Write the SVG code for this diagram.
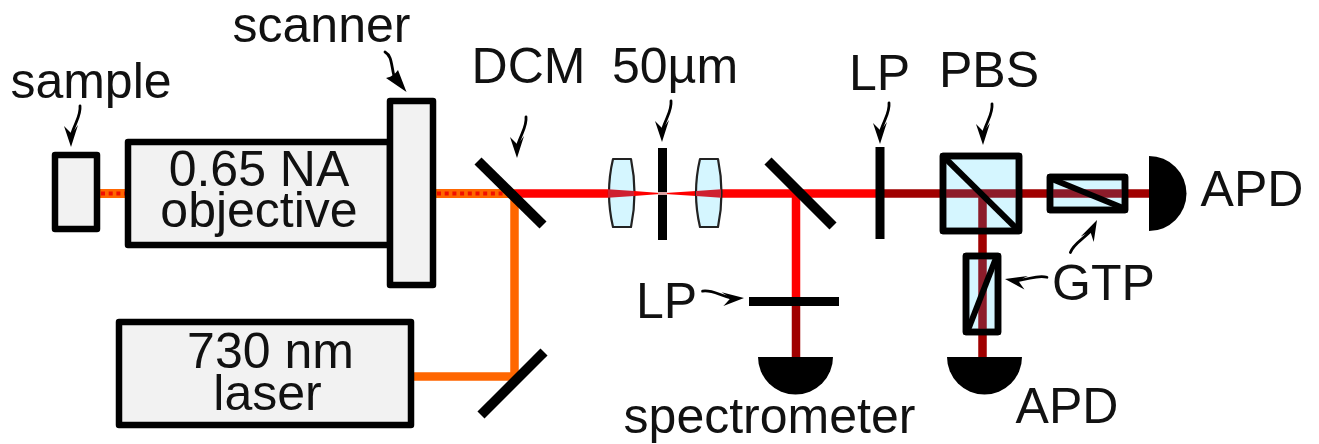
<svg xmlns="http://www.w3.org/2000/svg" width="1319" height="444" viewBox="0 0 1319 444">
<style>
text{font-family:"Liberation Sans",Arial,sans-serif;font-size:50px;fill:#111}
.m{text-anchor:middle}
.box{fill:#f2f2f2;stroke:#000;stroke-width:6.5;stroke-linejoin:round}
.cube{fill:#d5f6ff;stroke:#000;stroke-width:6.5;stroke-linejoin:round}
.frame{fill:none;stroke:#000;stroke-width:6.5;stroke-linejoin:round}
.bar{stroke:#000;fill:none;stroke-linecap:butt}
.lens{fill:#d5f6ff;stroke:#222;stroke-width:2.2;stroke-linejoin:round}
.beam{fill:none;stroke-width:8.5}
.red{stroke:#f00}.dark{stroke:#a00000}.thru{stroke:#8c1c2a}.org{stroke:#f60}
.dots{fill:none;stroke:#f01000;stroke-width:4;stroke-dasharray:4 3.700}
.tail{fill:none;stroke:#000;stroke-width:2.800;stroke-linecap:round}
</style>
<defs>
<g id="arrow">
<path class="tail" d="M9,-41 C10,-32 5,-26 1,-14"/>
<path d="M0,0 L-7,-21 Q-3,-17 0,-14 Q4,-17 7,-22 Z"/>
</g>
</defs>
<rect width="1319" height="444" fill="#fff"/>
<g id="connectors">
<path class="beam org" style="stroke-width:9" d="M99,193.500H127"/>
<path class="dots" d="M101,193.500H125"/>
<path class="beam org" style="stroke-width:9" d="M434,193.500H515"/>
<path class="dots" d="M437,193.500H510"/>
<path class="beam org" d="M514.500,193V376.500H412"/>
<path class="beam red" d="M515,193.500H610M720,193.500H882M796,193.500V301"/>
<path class="beam dark" d="M880,193.500H1152M796,301V360M982.500,193.500V360"/>
<use href="#arrow" transform="translate(71,147)"/>
<g id="scanner-arrow"><path class="tail" d="M385,52C392,56 391,64 394,76"/><path d="M406.500,92L386,78Q391,77 393,75Q396,73 398,70Z"/></g>
<use href="#arrow" transform="translate(517,158)"/>
<use href="#arrow" transform="translate(662,142)"/>
<use href="#arrow" transform="translate(880,144)"/>
<use href="#arrow" transform="translate(983,145)"/>
<use href="#arrow" transform="translate(1097,220) rotate(207)"/>
<use href="#arrow" transform="translate(1005,279) rotate(100) scale(-1,1)"/>
<use href="#arrow" transform="translate(744,298) rotate(-93)"/>
</g>
<g id="sample"><rect class="box" x="55" y="155" width="42" height="74"/><text x="91" y="98" class="m">sample</text></g>
<g id="objective"><rect class="box" x="128" y="142" width="262" height="103"/><text x="259" y="186" class="m">0.65 NA</text><text x="259" y="226.500" class="m">objective</text></g>
<g id="scanner"><rect class="box" x="390" y="101" width="43" height="184"/><text x="321.500" y="41.500" class="m">scanner</text></g>
<g id="laser"><rect class="box" x="119" y="322" width="292" height="103"/><text x="270.500" y="368" class="m">730 nm</text><text x="267.500" y="410" class="m">laser</text></g>
<g id="dcm"><path class="bar" stroke-width="10" d="M478,161L543,225"/><text x="528.500" y="83" class="m">DCM</text></g>
<g id="mirror-bottom"><path class="bar" stroke-width="10" d="M481,415L544,352"/></g>
<g id="lens-1"><path class="lens" d="M613,159H631Q638,193 631,227H613Q605,193 613,159Z"/><path fill="#cf2030" d="M608,189.200L634,191V196L608,197.800Z"/></g>
<g id="aperture"><path fill="#f00" d="M634,191L660,193V194L634,196ZM665,193L696,191V196L665,194Z"/><path class="bar" stroke-width="9" d="M662.500,148V192M662.500,195V240"/><path fill="#d9a0a0" d="M658,192H667V195H658Z"/><text x="675" y="83" class="m">50µm</text></g>
<g id="lens-2"><path class="lens" d="M700,159H718Q725,193 718,227H700Q692,193 700,159Z"/><path fill="#cf2030" d="M696,191L721,189.200V197.800L696,196Z"/></g>
<g id="mirror-2"><path class="bar" stroke-width="10" d="M768,161L833,226"/></g>
<g id="lp-1"><path class="bar" stroke-width="9" d="M880,147V239"/><text x="879.500" y="90" class="m">LP</text></g>
<g id="lp-2"><path class="bar" stroke-width="9" d="M749,301.500H839"/><text x="666.500" y="318" class="m">LP</text></g>
<g id="pbs"><rect class="cube" x="943" y="156" width="76" height="75"/><path class="beam thru" d="M946,193.500H1016M982.500,193.500V228"/><rect class="frame" x="943" y="156" width="76" height="75"/><path class="bar" stroke-width="6" d="M945,158L1017,229"/><text x="989" y="87" class="m">PBS</text></g>
<g id="gtp-h"><rect class="cube" x="1050" y="177" width="75" height="33"/><path class="beam thru" d="M1053,193.500H1122"/><rect class="frame" x="1050" y="177" width="75" height="33"/><path class="bar" stroke-width="6" d="M1052,179L1123,208"/></g>
<g id="gtp-v"><rect class="cube" x="966" y="256" width="32" height="76"/><path class="beam thru" d="M982.500,259V329"/><rect class="frame" x="966" y="256" width="32" height="76"/><path class="bar" stroke-width="6" d="M996,258L968,330"/><text x="1103.500" y="300" class="m">GTP</text></g>
<g id="apd-right"><path d="M1149,156A37.500,37.500 0 0 1 1149,231Z"/><text x="1252" y="206" class="m">APD</text></g>
<g id="apd-bottom"><path d="M947,357H1022A37.500,37.500 0 0 1 947,357Z"/><text x="1067" y="423" class="m">APD</text></g>
<g id="spectrometer"><path d="M758,357H833A37.500,37.500 0 0 1 758,357Z"/><text x="769.500" y="433" class="m">spectrometer</text></g>
</svg>
